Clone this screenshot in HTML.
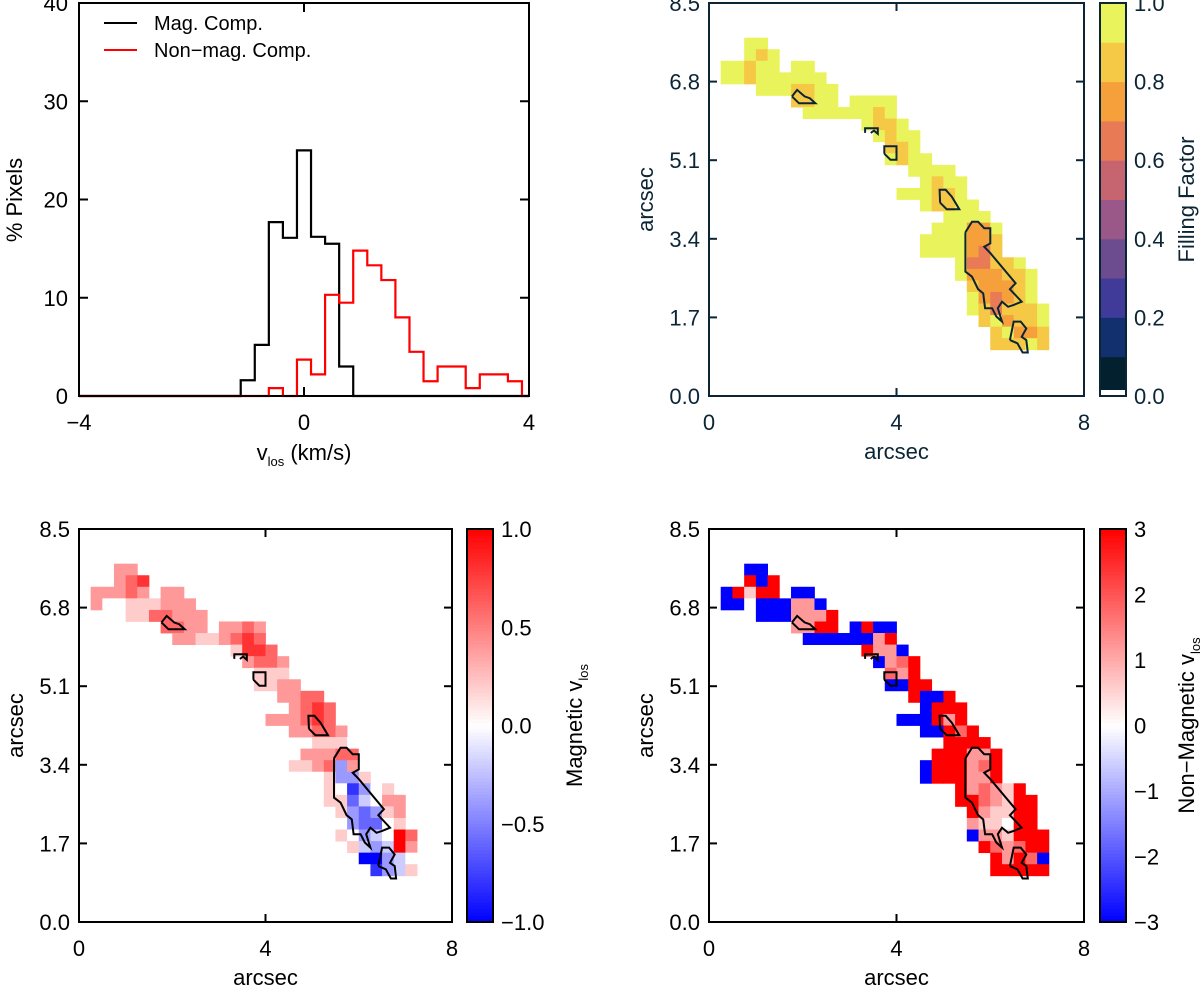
<!DOCTYPE html>
<html><head><meta charset="utf-8"><title>Filling factor and velocity maps</title>
<style>
html,body{margin:0;padding:0;background:#fff;}
svg{display:block;font-family:"Liberation Sans","DejaVu Sans",sans-serif;}
</style></head>
<body>
<svg id="fig" width="1200" height="987" viewBox="0 0 1200 987" xmlns="http://www.w3.org/2000/svg">
<rect x="0" y="0" width="1200" height="987" fill="#fff"/>
<g id="hist"></g>
<g id="ffmap"></g>
<g id="magmap"></g>
<g id="nonmap"></g>
</svg>
<script>
// ---------- Histogram data ----------
const binCenters = [-1.0,-0.75,-0.5,-0.25,0,0.25,0.5,0.75,1.0,1.25,1.5,1.75,2.0,2.25,2.5,2.75,3.0,3.25,3.5,3.75];
const magCounts  = [1.6,5.2,17.7,16.1,25.0,16.2,15.5,3.0,0,0,0,0,0,0,0,0,0,0,0,0];
const nonCounts  = [0,0,0.8,0,3.7,2.2,10.3,9.5,14.8,13.3,11.8,8.0,4.5,1.5,3.0,3.0,0.8,2.2,2.2,1.5];
const binWidth = 0.25;
const histXTicks = [-4,0,4];
const histYTicks = [0,10,20,30,40];

// ---------- Map data (grid of 0.25 arcsec cells, rows from top y=8.5) ----------
const rowStart = {3:3,4:3,5:1,6:1,7:4,8:7,9:8,10:13,11:14,12:15,13:15,14:17,15:18,16:16,17:18,18:20,19:19,20:18,21:18,22:21,23:21,24:22,25:22,26:22,27:23,28:24,29:24};
const ffRows = {3:"XX",4:"X8X",5:"XX8XX.XX",6:"XX8XXXXXX",7:"XXX88XX",8:"88XX.XXXX",9:"XXXXXX8X",10:"X88X",11:"X8XX",12:"88X",13:"X8XX",14:"XXXX",15:"X8XX",16:"XXX88X",17:"X88XX",18:"XXXX",19:"XXX77X",20:"XXXX778",21:"XXXX768",22:"X6688X",23:"X77788X",24:"87778X",25:"X7678X",26:"X86888X",27:"8X788X",28:"8X778",29:"888X8"};
const magRows = {3:"77",4:"789",5:"77787.77",6:"755666777",7:"6688777",8:"8877.7787",9:"77667898",10:"6998",11:"7887",12:"666",13:"6677",14:"7788",15:"7898",16:"777898",17:"77887",18:"6665",19:"777885",20:"6678375",21:"5556336",22:"651356",23:"6624577",24:"632367",25:"532256",26:"65345X8",27:"6434X7",28:"00345",29:"51346"};
const nonRows = {3:"00",4:"X0X",5:"0X6XX.00",6:"005000770",7:"000777X",8:"77XX.0X00",9:"0000007X",10:"X770",11:"078X",12:"87X",13:"00XX",14:"X00X",15:"0XXX",16:"000X7X",17:"00X8X",18:"XXXX",19:"XXX77X",20:"0XXX78X",21:"0XXX77X",22:"X7876X",23:"XX876XX",24:"X766XX",25:"7665XX",26:"0776XXX",27:"X878XX",28:"X7X80",29:"XXXXX"};
const ffLevels  = [0,0.1,0.2,0.3,0.4,0.5,0.6,0.7,0.8,0.9,1.0];
const magLevels = [-1,-0.8,-0.6,-0.4,-0.2,0,0.2,0.4,0.6,0.8,1.0];
const nonLevels = [-3,-2.4,-1.8,-1.2,-0.6,0,0.6,1.2,1.8,2.4,3.0];
const cellSize = 0.25;
const mapXTicks = [0,4,8];
const mapYTicks = [0.0,1.7,3.4,5.1,6.8,8.5];
const ffTicks = [0.0,0.2,0.4,0.6,0.8,1.0];
const magTicks = [-1.0,-0.5,0.0,0.5,1.0];
const nonTicks = [-3,-2,-1,0,1,2,3];
const contour1 = [[1.77,6.48],[1.88,6.62],[2.04,6.48],[2.15,6.44],[2.27,6.33],[1.92,6.33],[1.77,6.48]];
const contour2 = [[3.33,5.69],[3.33,5.79],[3.6,5.79],[3.6,5.67],[3.52,5.74],[3.45,5.69]];
const contour3 = [[3.74,5.24],[3.74,5.40],[4.0,5.40],[4.0,5.11],[3.87,5.11],[3.74,5.24]];
const contour4 = [[4.93,4.18],[4.92,4.46],[5.05,4.46],[5.18,4.31],[5.24,4.21],[5.34,4.04],[5.07,4.04],[4.93,4.18]];
const contour5 = [[5.47,3.54],[5.61,3.77],[5.74,3.77],[5.87,3.63],[6.0,3.63],[6.0,3.30],[5.87,3.23],[6.0,3.09],[6.54,2.44],[6.42,2.31],[6.67,2.04],[6.5,1.97],[6.38,1.93],[6.25,2.04],[6.16,1.90],[6.25,1.61],[6.13,1.72],[6.04,1.90],[5.89,1.90],[5.85,2.22],[5.74,2.31],[5.61,2.58],[5.47,2.69],[5.47,3.54]];
const contour6 = [[6.42,1.21],[6.5,1.61],[6.65,1.61],[6.77,1.46],[6.67,1.28],[6.77,1.21],[6.8,0.94],[6.69,0.94],[6.58,1.14],[6.42,1.21]];
const contours = [contour1,contour2,contour3,contour4,contour5,contour6];

const NS="http://www.w3.org/2000/svg";
function mk(parent,tag,attrs,text){const e=document.createElementNS(NS,tag);for(const k in attrs)e.setAttribute(k,attrs[k]);if(text!==undefined)e.textContent=text;parent.appendChild(e);return e;}
const FS=22;

// ---------- Histogram ----------
(function(){
  const g=document.getElementById('hist');
  const X0=79,X1=529,Y0=396,Y1=3;
  const sx=v=>X0+(v+4)/8*(X1-X0), sy=v=>Y0-v/40*(Y0-Y1);
  function stepPath(counts,color,name){
    let d='M'+sx(-4)+','+sy(0);
    const first=binCenters[0]-binWidth/2;
    d+=' L'+sx(first)+','+sy(0);
    for(let i=0;i<binCenters.length;i++){
      const a=binCenters[i]-binWidth/2,b=binCenters[i]+binWidth/2;
      d+=' L'+sx(a)+','+sy(counts[i])+' L'+sx(b)+','+sy(counts[i]);
    }
    d+=' L'+sx(binCenters[binCenters.length-1]+binWidth/2)+','+sy(0)+' L'+sx(4)+','+sy(0);
    const p=mk(g,'path',{d:d,fill:'none',stroke:color,'stroke-width':2.2});
    
    
  }
  stepPath(magCounts,'#000','mag-comp-histogram');
  stepPath(nonCounts,'#f00','nonmag-comp-histogram');
  const fr=mk(g,'rect',{x:X0,y:Y1,width:X1-X0,height:Y0-Y1,fill:'none',stroke:'#000','stroke-width':2});
  
  
  histXTicks.forEach(v=>{
    mk(g,'line',{x1:sx(v),x2:sx(v),y1:Y0,y2:Y0-9,stroke:'#000','stroke-width':2});
    mk(g,'line',{x1:sx(v),x2:sx(v),y1:Y1,y2:Y1+9,stroke:'#000','stroke-width':2});
    const t=mk(g,'text',{x:sx(v),y:430,'text-anchor':'middle','font-size':FS},v<0?'\u2212'+(-v):String(v));
    
    
  });
  histYTicks.forEach(v=>{
    mk(g,'line',{x1:X0,x2:X0+9,y1:sy(v),y2:sy(v),stroke:'#000','stroke-width':2});
    mk(g,'line',{x1:X1,x2:X1-9,y1:sy(v),y2:sy(v),stroke:'#000','stroke-width':2});
    const t=mk(g,'text',{x:68,y:sy(v)+8,'text-anchor':'end','font-size':FS},String(v));
    
    
  });
  const xt=mk(g,'text',{x:304,y:460,'text-anchor':'middle','font-size':FS});
  xt.innerHTML='v<tspan font-size="13" dy="6">los</tspan><tspan dy="-6"> (km/s)</tspan>';
  
  
  const yt=mk(g,'text',{x:0,y:0,'text-anchor':'middle','font-size':FS,transform:'translate(22,200) rotate(-90)'},'% Pixels');
  
  
  const l1=mk(g,'line',{x1:104,x2:137,y1:23,y2:23,stroke:'#000','stroke-width':2});
  
  
  const t1=mk(g,'text',{x:154,y:30,'font-size':20},'Mag. Comp.');
  
  
  const l2=mk(g,'line',{x1:104,x2:137,y1:50,y2:50,stroke:'#f00','stroke-width':2});
  
  
  const t2=mk(g,'text',{x:154,y:57,'font-size':20},'Non\u2212mag. Comp.');
  
  
})();

const ffBandColors=['#03202f','#13306e','#403a98','#6c4c8e','#9a5888','#c6656f','#e87b56','#f6a03c','#f5c845','#e9f45c'];
function ffColor(v){let i=Math.min(9,Math.floor(v*10+1e-6));return ffBandColors[i];}
function divColor(t){t=Math.max(-1,Math.min(1,t));if(t>=0){const c=Math.round(255*(1-t));return 'rgb(255,'+c+','+c+')';}const c=Math.round(255*(1+t));return 'rgb('+c+','+c+',255)';}

function drawMap(cfg){
  const g=document.getElementById(cfg.id);
  const X0=cfg.x0,X1=cfg.x1,Y0=cfg.y0,Y1=cfg.y1;
  const sx=v=>X0+v/8*(X1-X0), sy=v=>Y0-v/8.5*(Y0-Y1);
  const ink=cfg.ink;
  for(const r in cfg.rows){
    const s=cfg.rows[r],c0=rowStart[r];
    for(let i=0;i<s.length;i++){
      const ch=s[i]; if(ch==='.')continue;
      const idx="0123456789X".indexOf(ch);
      const val=cfg.levels[idx];
      const c=c0+i;
      const xa=sx(c*cellSize),xb=sx((c+1)*cellSize);
      const ya=sy(8.5-r*cellSize),yb=sy(8.5-(+r+1)*cellSize);
      const cell=mk(g,'rect',{x:xa.toFixed(2),y:ya.toFixed(2),width:(xb-xa+0.4).toFixed(2),height:(yb-ya+0.4).toFixed(2),fill:cfg.color(val)});
      
      
    }
  }
  contours.forEach(pts=>{
    const p=mk(g,'polyline',{points:pts.map(q=>sx(q[0]).toFixed(1)+','+sy(q[1]).toFixed(1)).join(' '),fill:'none',stroke:ink,'stroke-width':2});
    
    
  });
  const fr=mk(g,'rect',{x:X0,y:Y1,width:X1-X0,height:Y0-Y1,fill:'none',stroke:ink,'stroke-width':2});
  
  
  mapXTicks.forEach(v=>{
    mk(g,'line',{x1:sx(v),x2:sx(v),y1:Y0,y2:Y0-8,stroke:ink,'stroke-width':2});
    mk(g,'line',{x1:sx(v),x2:sx(v),y1:Y1,y2:Y1+8,stroke:ink,'stroke-width':2});
    const t=mk(g,'text',{x:sx(v),y:Y0+34,'text-anchor':'middle','font-size':FS,fill:ink},String(v));
    
    
  });
  mapYTicks.forEach(v=>{
    mk(g,'line',{x1:X0,x2:X0+8,y1:sy(v),y2:sy(v),stroke:ink,'stroke-width':2});
    mk(g,'line',{x1:X1,x2:X1-8,y1:sy(v),y2:sy(v),stroke:ink,'stroke-width':2});
    const t=mk(g,'text',{x:X0-9,y:sy(v)+8,'text-anchor':'end','font-size':FS,fill:ink},v.toFixed(1));
    
    
  });
  const xt=mk(g,'text',{x:(X0+X1)/2,y:Y0+63,'text-anchor':'middle','font-size':FS,fill:ink},'arcsec');
  
  
  const yt=mk(g,'text',{x:0,y:0,'text-anchor':'middle','font-size':FS,fill:ink,transform:'translate('+(X0-56)+','+((Y0+Y1)/2)+') rotate(-90)'},'arcsec');
  
  
  const cb=cfg.cb;
  const cbg=mk(g,'g',{});
  
  
  const n=120;
  for(let i=0;i<n;i++){
    const v=cfg.cbMin+(cfg.cbMax-cfg.cbMin)*(i+0.5)/n;
    const ya=Y0-(i+1)/n*(Y0-Y1);
    mk(cbg,'rect',{x:cb,y:ya.toFixed(2),width:26,height:((Y0-Y1)/n+0.5).toFixed(2),fill:cfg.cbColor(v)});
  }
  if(cfg.whiteBase) mk(cbg,'rect',{x:cb,y:Y0-6,width:26,height:6,fill:'#fff'});
  mk(cbg,'rect',{x:cb,y:Y1,width:26,height:Y0-Y1,fill:'none',stroke:ink,'stroke-width':2});
  cfg.ticks.forEach(v=>{
    const y=Y0-(v-cfg.cbMin)/(cfg.cbMax-cfg.cbMin)*(Y0-Y1);
    const t=mk(g,'text',{x:cb+34,y:y+8,'font-size':FS,fill:ink},cfg.fmt(v));
    
    
  });
  const ct=mk(g,'text',{x:0,y:0,'text-anchor':'middle','font-size':FS,fill:ink,transform:'translate('+cfg.titleX+','+((Y0+Y1)/2)+') rotate(-90)'});
  ct.innerHTML=cfg.title;
  
  
}
const neg=v=>v<0?'\u2212'+(-v):String(v);
const neg1=v=>v<0?'\u2212'+(-v).toFixed(1):v.toFixed(1);
drawMap({id:'ffmap',x0:709,x1:1084,y0:396,y1:3,rows:ffRows,levels:ffLevels,color:ffColor,ink:'#0b2535',cb:1100,cbMin:0,cbMax:1,cbColor:ffColor,whiteBase:true,ticks:ffTicks,fmt:v=>v.toFixed(1),titleX:1194,title:'Filling Factor'});
drawMap({id:'magmap',x0:79,x1:452,y0:922,y1:529,rows:magRows,levels:magLevels,color:divColor,ink:'#000',cb:467,cbMin:-1,cbMax:1,cbColor:divColor,ticks:magTicks,fmt:neg1,titleX:582,title:'Magnetic v<tspan font-size="13" dy="6">los</tspan>'});
drawMap({id:'nonmap',x0:709,x1:1084,y0:922,y1:529,rows:nonRows,levels:nonLevels,color:v=>divColor(v/3),ink:'#000',cb:1100,cbMin:-3,cbMax:3,cbColor:v=>divColor(v/3),ticks:nonTicks,fmt:neg,titleX:1194,title:'Non\u2212Magnetic v<tspan font-size="13" dy="6">los</tspan>'});
</script>
</body></html>
